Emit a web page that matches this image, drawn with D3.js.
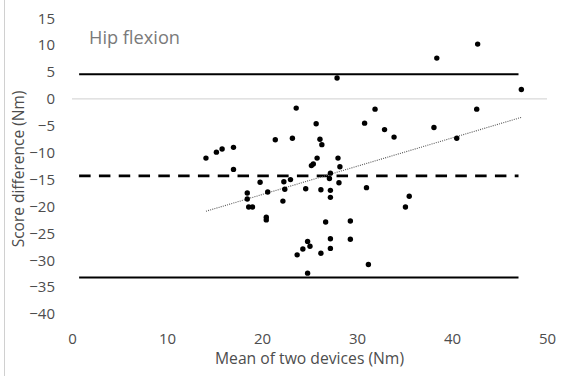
<!DOCTYPE html>
<html>
<head>
<meta charset="utf-8">
<script src="https://cdn.jsdelivr.net/npm/d3@7"></script>
<style>
  body { margin: 0; background: #fff; }
  svg { display: block; font-family: "Open Sans", sans-serif; }
</style>
</head>
<body>
<svg id="chart" width="567" height="376"></svg>
<script>
// mean of the two devices (Nm)
var meanX = [14.1, 15.2, 15.8, 17.0, 17.0, 21.4, 19.8, 18.45, 18.45, 18.6,
  19.0, 20.6, 20.45, 20.45, 22.3, 22.4, 22.2, 27.9, 23.6, 31.9,
  25.7, 30.8, 32.9, 23.2, 26.1, 26.3, 25.8, 25.4, 25.2, 28.0,
  28.2, 27.2, 27.1, 23.0, 24.6, 26.2, 27.2, 27.2, 28.1, 31.0,
  26.7, 29.3, 29.3, 27.2, 27.2, 24.8, 25.05, 24.3, 23.7, 26.2,
  24.8, 31.2, 42.7, 38.4, 47.3, 42.6, 33.9, 38.1, 40.5, 35.5, 35.1];

// score difference (Nm)
var diffY = [-11.0, -9.9, -9.3, -9.0, -13.1, -7.6, -15.5, -17.5, -18.6, -20.1,
  -20.1, -17.3, -22.0, -22.5, -15.4, -16.8, -19.0, 3.9, -1.7, -1.9,
  -4.6, -4.5, -5.7, -7.3, -7.5, -8.5, -11.0, -12.1, -12.4, -11.0,
  -12.6, -13.8, -14.8, -15.0, -16.7, -16.9, -17.0, -18.3, -15.6, -16.5,
  -22.9, -22.7, -26.1, -26.0, -27.8, -26.5, -27.4, -27.9, -29.0, -28.7,
  -32.4, -30.8, 10.2, 7.6, 1.75, -1.9, -7.1, -5.3, -7.3, -18.1, -20.1];

// bias and limits of agreement
var meanDiff = -14.3;
var upperLoA = 4.6;
var lowerLoA = -33.2;
var limitSpan = [0.75, 47];

var xTicks = [0, 10, 20, 30, 40, 50];
var yTicks = [15, 10, 5, 0, -5, -10, -15, -20, -25, -30, -35, -40];

var points = meanX.map(function(d, i) { return {x: d, y: diffY[i]}; });

var svg = d3.select('#chart');

var x = d3.scaleLinear().domain([0, 50]).range([72, 547]);
var y = d3.scaleLinear().domain([-40, 15]).range([314, 18.3]);

// left border of the chart area
svg.append('line')
  .attr('x1', 4.5).attr('x2', 4.5).attr('y1', 0).attr('y2', 376)
  .attr('stroke', '#d0d0d0').attr('stroke-width', 1);

// axes (labels only)
var yAxis = svg.append('g')
  .attr('transform', 'translate(72,0)')
  .call(d3.axisLeft(y).tickValues(yTicks).tickSize(0).tickPadding(17));
var xAxis = svg.append('g')
  .attr('transform', 'translate(0,314)')
  .call(d3.axisBottom(x).tickValues(xTicks).tickSize(0).tickPadding(19.5));
[xAxis, yAxis].forEach(function(g) {
  g.select('.domain').remove();
  g.selectAll('text')
    .attr('fill', '#4d4d4d')
    .style('font-size', '15px')
    .style('font-family', '"Open Sans", sans-serif');
});

// zero line
svg.append('line')
  .attr('x1', x(0)).attr('x2', x(50))
  .attr('y1', y(0)).attr('y2', y(0))
  .attr('stroke', '#d9d9d9').attr('stroke-width', 1.3);

// limits of agreement + bias
svg.append('line')
  .attr('x1', x(limitSpan[0])).attr('x2', x(limitSpan[1]))
  .attr('y1', y(upperLoA)).attr('y2', y(upperLoA))
  .attr('stroke', '#000').attr('stroke-width', 2);
svg.append('line')
  .attr('x1', x(limitSpan[0])).attr('x2', x(limitSpan[1]))
  .attr('y1', y(lowerLoA)).attr('y2', y(lowerLoA))
  .attr('stroke', '#000').attr('stroke-width', 2);
svg.append('line')
  .attr('x1', x(limitSpan[0])).attr('x2', x(limitSpan[1]))
  .attr('y1', y(meanDiff)).attr('y2', y(meanDiff))
  .attr('stroke', '#000').attr('stroke-width', 2.8)
  .attr('stroke-dasharray', '11.5,8.3');

// linear trend (least squares)
var mx = d3.mean(meanX), my = d3.mean(diffY);
var sxy = d3.sum(points, function(d) { return (d.x - mx) * (d.y - my); });
var sxx = d3.sum(points, function(d) { return (d.x - mx) * (d.x - mx); });
var slope = sxy / sxx, icpt = my - slope * mx;
var xe = d3.extent(meanX);
svg.append('line')
  .attr('x1', x(xe[0])).attr('x2', x(xe[1]))
  .attr('y1', y(icpt + slope * xe[0])).attr('y2', y(icpt + slope * xe[1]))
  .attr('stroke', '#555').attr('stroke-width', 1.1)
  .attr('stroke-dasharray', '1,1.2');

// data points
svg.append('g').selectAll('circle')
  .data(points)
  .enter().append('circle')
  .attr('cx', function(d) { return x(d.x); })
  .attr('cy', function(d) { return y(d.y); })
  .attr('r', 2.7)
  .attr('fill', '#000');

// titles
svg.append('text')
  .attr('x', 89).attr('y', 44)
  .attr('fill', '#7a7a7a')
  .style('font-size', '18.2px')
  .text('Hip flexion');

svg.append('text')
  .attr('x', 309.5).attr('y', 363.5)
  .attr('text-anchor', 'middle')
  .attr('fill', '#4d4d4d')
  .style('font-size', '15.7px')
  .text('Mean of two devices (Nm)');

svg.append('text')
  .attr('transform', 'translate(23.5,169) rotate(-90)')
  .attr('text-anchor', 'middle')
  .attr('fill', '#4d4d4d')
  .style('font-size', '15.5px')
  .text('Score difference (Nm)');
</script>
</body>
</html>
